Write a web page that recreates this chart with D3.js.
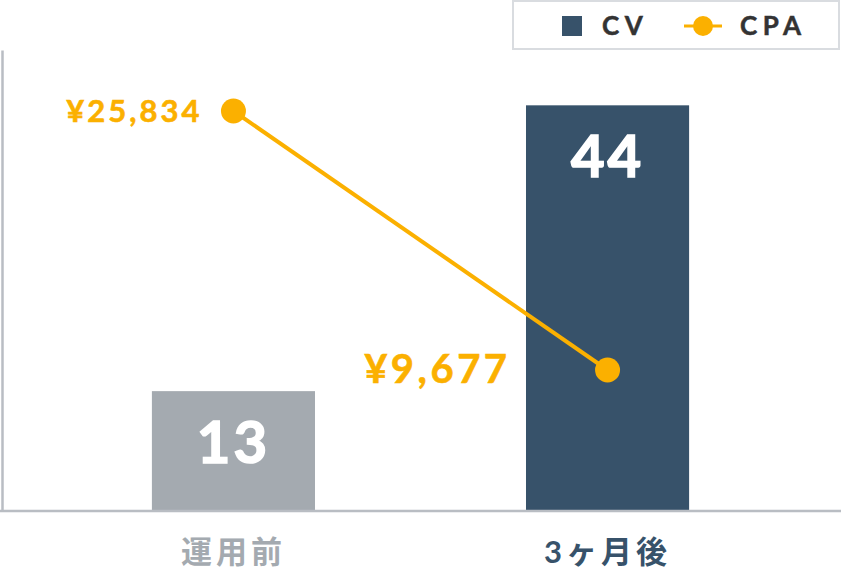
<!DOCTYPE html>
<html>
<head>
<meta charset="utf-8">
<script src="https://cdn.jsdelivr.net/npm/d3@7"></script>
<style>
  html, body { margin: 0; padding: 0; background: #fff; }
  svg { display: block; }
  text { font-family: Lato, "Noto Sans CJK JP", sans-serif; font-weight: 700; }
</style>
</head>
<body>
<div id="chart"></div>
<script>
const WIDTH = 841
const HEIGHT = 577
const MARGIN = { TOP: 50, LEFT: 3, BOTTOM: 66, RIGHT: 3 }

const categories = ["運用前", "3ヶ月後"]
const cvValues = [13, 44]
const cpaValues = [25834, 9677]
const cpaLabels = ["¥25,834", "¥9,677"]
const legendItems = ["CV", "CPA"]

const BAR_COLORS = ["#a4aab0", "#37526a"]
const LABEL_COLORS = ["#a4aab0", "#37526a"]
const ORANGE = "#fbb000"
const AXIS_COLOR = "#b9bdc3"

const svg = d3.select("#chart")
  .append("svg")
  .attr("width", WIDTH)
  .attr("height", HEIGHT)

const x = d3.scaleBand()
  .domain(categories)
  .range([MARGIN.LEFT, WIDTH - MARGIN.RIGHT])
  .paddingInner(0.564)
  .paddingOuter(0.398)

const y = d3.scaleLinear()
  .domain([0, 50])
  .range([HEIGHT - MARGIN.BOTTOM, MARGIN.TOP])

// CPA uses its own axis (not drawn)
const y2 = d3.scaleLinear()
  .domain([882, 29639])
  .range([HEIGHT - MARGIN.BOTTOM, MARGIN.TOP])

// bars
svg.append("g")
  .selectAll("rect")
  .data(cvValues)
  .join("rect")
  .attr("x", (d, i) => x(categories[i]))
  .attr("y", d => y(d))
  .attr("width", x.bandwidth())
  .attr("height", d => y(0) - y(d))
  .attr("fill", (d, i) => BAR_COLORS[i])

// bar values
svg.append("g")
  .selectAll("text")
  .data(cvValues)
  .join("text")
  .attr("x", (d, i) => x(categories[i]) + x.bandwidth() / 2)
  .attr("y", d => y(d) + 72)
  .attr("text-anchor", "middle")
  .attr("fill", "#fff")
  .attr("stroke", "#fff")
  .attr("stroke-width", 1.6)
  .attr("font-size", 58)
  .attr("letter-spacing", 3)
  .text(d => d)

// axes
const xAxis = svg.append("g")
  .attr("transform", `translate(0, ${y(0)})`)
  .call(d3.axisBottom(x).tickSize(0).tickPadding(30))
xAxis.select(".domain")
  .attr("d", `M0,0H${WIDTH}`)
  .attr("stroke", AXIS_COLOR)
  .attr("stroke-width", 2.5)
xAxis.selectAll(".tick text")
  .attr("font-size", 31)
  .attr("font-family", "'Noto Sans CJK JP', sans-serif")
  .attr("font-weight", 700)
  .attr("letter-spacing", 4)
  .attr("fill", (d, i) => LABEL_COLORS[i])

const yAxis = svg.append("g")
  .attr("transform", `translate(${MARGIN.LEFT - 1}, 0)`)
  .call(d3.axisLeft(y).ticks(0).tickSize(0))
yAxis.select(".domain")
  .attr("stroke", AXIS_COLOR)
  .attr("stroke-width", 2.5)
yAxis.selectAll(".tick").remove()

// CPA line
const cx = (d, i) => x(categories[i]) + x.bandwidth() / 2
const line = d3.line()
  .x((d, i) => cx(d, i))
  .y(d => y2(d))

svg.append("path")
  .datum(cpaValues)
  .attr("d", line)
  .attr("fill", "none")
  .attr("stroke", ORANGE)
  .attr("stroke-width", 4)

svg.append("g")
  .selectAll("circle")
  .data(cpaValues)
  .join("circle")
  .attr("cx", cx)
  .attr("cy", d => y2(d))
  .attr("r", 12.5)
  .attr("fill", ORANGE)

const cpaSizes = [31, 40]
svg.append("g")
  .selectAll("text")
  .data(cpaValues)
  .join("text")
  .attr("x", (d, i) => cx(d, i) - (i === 0 ? 31 : 97))
  .attr("y", (d, i) => y2(d) + (i === 0 ? 11 : 13))
  .attr("text-anchor", "end")
  .attr("fill", ORANGE)
  .attr("stroke", ORANGE)
  .attr("stroke-width", 0.6)
  .attr("font-size", (d, i) => cpaSizes[i])
  .attr("letter-spacing", (d, i) => i === 0 ? 3 : 3.5)
  .text((d, i) => cpaLabels[i])

// legend
const legend = svg.append("g")
legend.append("rect")
  .attr("x", 513)
  .attr("y", 1)
  .attr("width", 326)
  .attr("height", 48)
  .attr("fill", "#fff")
  .attr("stroke", "#d9dce0")
  .attr("stroke-width", 2)

legend.append("rect")
  .attr("x", 562)
  .attr("y", 16)
  .attr("width", 20)
  .attr("height", 20)
  .attr("fill", BAR_COLORS[1])

legend.append("line")
  .attr("x1", 684)
  .attr("x2", 722)
  .attr("y1", 26)
  .attr("y2", 26)
  .attr("stroke", ORANGE)
  .attr("stroke-width", 3)
legend.append("circle")
  .attr("cx", 703)
  .attr("cy", 26)
  .attr("r", 10)
  .attr("fill", ORANGE)

legend.selectAll("text.legend-label")
  .data(legendItems)
  .join("text")
  .attr("class", "legend-label")
  .attr("x", (d, i) => i === 0 ? 602 : 740)
  .attr("y", 35)
  .attr("fill", "#333")
  .attr("stroke", "#333")
  .attr("stroke-width", 0.5)
  .attr("font-size", 26)
  .attr("letter-spacing", 5.5)
  .text(d => d)
</script>
</body>
</html>
